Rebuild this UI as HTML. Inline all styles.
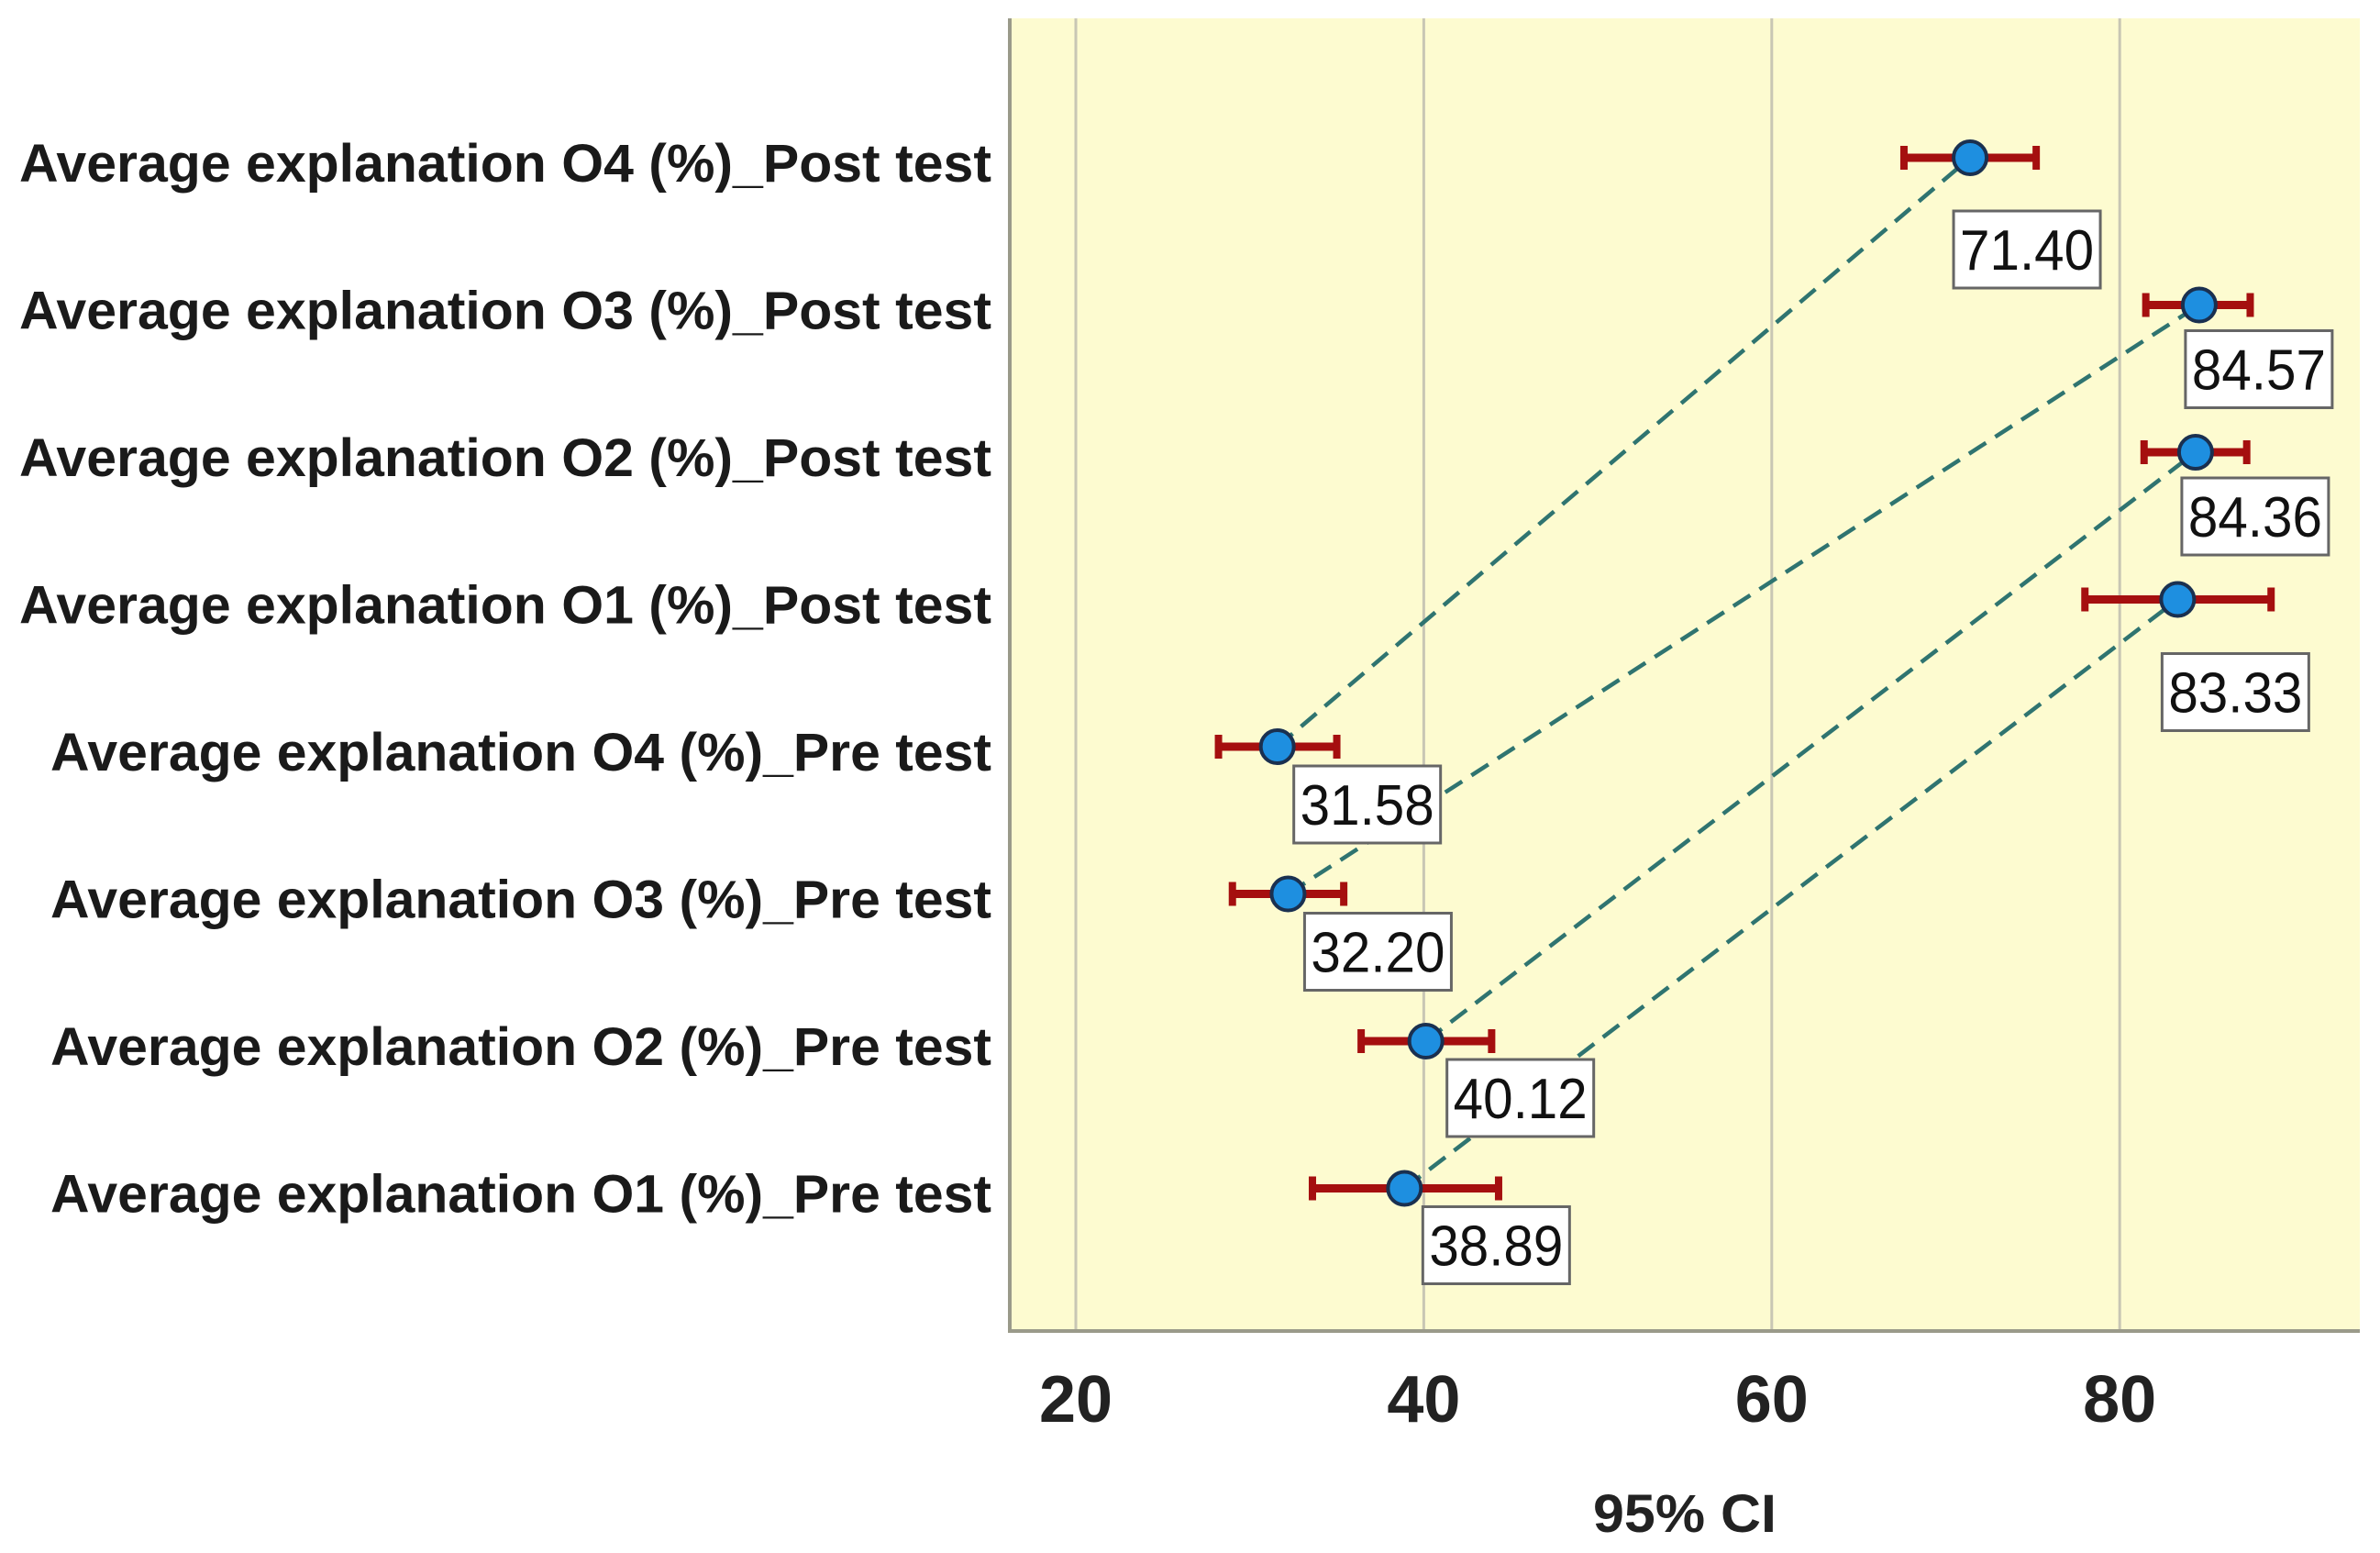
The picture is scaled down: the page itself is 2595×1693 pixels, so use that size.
<!DOCTYPE html>
<html><head><meta charset="utf-8"><style>
html,body{margin:0;padding:0;background:#fff;}
svg{display:block;}
text{font-family:"Liberation Sans",Arial,sans-serif;}
</style></head><body>
<svg id="chart" width="2595" height="1693" viewBox="0 0 2595 1693" xmlns="http://www.w3.org/2000/svg">
<rect x="1100" y="20" width="1473" height="1430" fill="#fdfbd0"/>
<g id="grid"></g>
<g id="lines"></g>
<g id="bars"></g>
<g id="labels"></g>
<line x1="1101" y1="20" x2="1101" y2="1451" stroke="#9a9a8a" stroke-width="4"/>
<line x1="1099" y1="1451" x2="2573" y2="1451" stroke="#9a9a8a" stroke-width="4"/>
<g id="ticks"></g>
<text x="1837" y="1670" font-size="58" font-weight="bold" text-anchor="middle" fill="#222" textLength="200" lengthAdjust="spacingAndGlyphs">95% CI</text>
</svg>
<script>
const categories=["Average explanation O4 (%)_Post test","Average explanation O3 (%)_Post test","Average explanation O2 (%)_Post test","Average explanation O1 (%)_Post test","Average explanation O4 (%)_Pre test","Average explanation O3 (%)_Pre test","Average explanation O2 (%)_Pre test","Average explanation O1 (%)_Pre test"];
const means=[71.40,84.57,84.36,83.33,31.58,32.20,40.12,38.89];
const lower=[67.6,81.5,81.4,78.0,28.2,29.0,36.4,33.6];
const upper=[75.2,87.5,87.3,88.7,35.0,35.4,43.9,44.3];
const meanLabels=["71.40","84.57","84.36","83.33","31.58","32.20","40.12","38.89"];
const pairs=[[4,0],[5,1],[6,2],[7,3]];
const xTicks=[20,40,60,80];
// layout (not data): label box offsets relative to point
const boxDx=[-18,-15,-15,-17,18,18,23,20];
const boxDy=[58,28,28,59,21,21,20,20];

const NS="http://www.w3.org/2000/svg";
function X(v){return 1173+(v-20)*18.97;}
function Y(i){return 172+i*160.5;}
function mk(tag,attrs,parent){const e=document.createElementNS(NS,tag);for(const k in attrs)e.setAttribute(k,attrs[k]);document.getElementById(parent).appendChild(e);return e;}

xTicks.forEach(t=>{
  const g=mk('line',{x1:X(t),x2:X(t),y1:20,y2:1450,stroke:'#c8c6b4','stroke-width':3},'grid');
  
  
  const tx=mk('text',{x:X(t),y:1550,'font-size':72,'font-weight':'bold','text-anchor':'middle',fill:'#222'},'ticks');
  tx.textContent=t;
  
  
});

pairs.forEach((p,k)=>{
  const l=mk('line',{x1:X(means[p[0]]),y1:Y(p[0]),x2:X(means[p[1]]),y2:Y(p[1]),stroke:'#2f7470','stroke-width':4.5,'stroke-dasharray':'22 12'},'lines');
  
  
});

categories.forEach((c,i)=>{
  const y=Y(i);
  const lab=mk('text',{x:1081,y:y+26,'font-size':58,'font-weight':'bold','text-anchor':'end',fill:'#1a1a1a'},'labels');
  lab.textContent=c;
  lab.setAttribute('textLength', i<4?1060:1026);
  lab.setAttribute('lengthAdjust','spacingAndGlyphs');
  
  

  const b=mk('line',{x1:X(lower[i]),x2:X(upper[i]),y1:y,y2:y,stroke:'#a50f0f','stroke-width':9},'bars');
  
  
  [lower[i],upper[i]].forEach(v=>{
    const cp=mk('line',{x1:X(v),x2:X(v),y1:y-13,y2:y+13,stroke:'#a50f0f','stroke-width':8},'bars');
    
    
  });
  const m=mk('circle',{cx:X(means[i]),cy:y,r:18,fill:'#1e8fe0',stroke:'#1a3050','stroke-width':4},'bars');
  
  

  const bx=X(means[i])+boxDx[i], by=y+boxDy[i];
  const r=mk('rect',{x:bx,y:by,width:160,height:84,fill:'#fff',stroke:'#666','stroke-width':3},'labels');
  
  
  const t=mk('text',{x:bx+80,y:by+64,'font-size':62,'text-anchor':'middle',fill:'#111','textLength':146,'lengthAdjust':'spacingAndGlyphs'},'labels');
  t.textContent=meanLabels[i];
  
  
});
</script>
</body></html>
